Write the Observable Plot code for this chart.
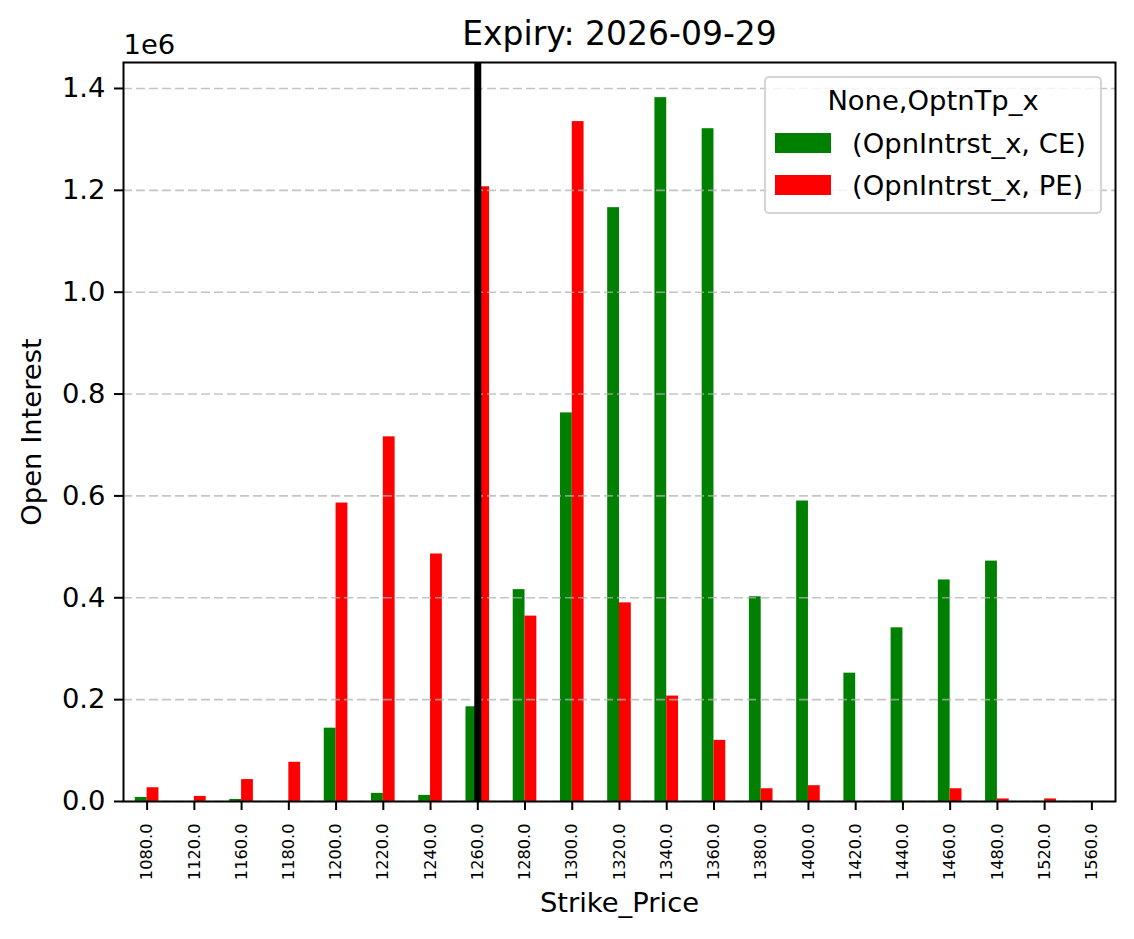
<!DOCTYPE html>
<html><head><meta charset="utf-8">
<script src="https://cdn.jsdelivr.net/npm/d3@7"></script>
<script src="https://cdn.jsdelivr.net/npm/@observablehq/plot@0.6"></script>
<style>
body{margin:0;background:#fff;font-family:"DejaVu Sans",sans-serif;}
#wrap{position:relative;width:1134px;height:939px;}
#legend{position:absolute;left:764px;top:76px;width:334px;height:134px;border:2px solid rgba(204,204,204,0.85);border-radius:5px;background:rgba(255,255,255,0.8);}
#legend .t{position:absolute;font-size:27.4px;line-height:27.4px;white-space:nowrap;color:#000;}
#legend .sw{position:absolute;width:56px;height:20px;}
</style></head><body><div id="wrap"></div>
<script>
const strikes = [1080,1120,1160,1180,1200,1220,1240,1260,1280,1300,1320,1340,1360,1380,1400,1420,1440,1460,1480,1520,1560];
const ceOI = [8000,0,4000,0,144000,16000,12000,186000,416000,763000,1166000,1382000,1321000,402000,590000,252000,341000,435000,472000,0,0];
const peOI = [27000,10000,43000,77000,586000,716000,486000,1207000,364000,1335000,390000,207000,120000,25000,31000,0,0,25000,5000,5000,0];
const seriesNames = ["CE","PE"];
const seriesLabels = ["(OpnIntrst_x, CE)","(OpnIntrst_x, PE)"];
const seriesColors = ["#008000","#ff0000"];
const underlying = 1260;
const yTicks = [0,200000,400000,600000,800000,1000000,1200000,1400000];
const titleText = "Expiry: 2026-09-29";
const legendTitle = "None,OptnTp_x";

const rows = [];
strikes.forEach((s,i) => {
  rows.push({i, strike:s, type:"CE", oi:ceOI[i]});
  rows.push({i, strike:s, type:"PE", oi:peOI[i]});
});
const idx = strikes.map((_,i)=>i);
const barW = 0.25;
const fs = 27.4;

const chart = Plot.plot({
  width:1134, height:939,
  marginTop:62, marginLeft:123, marginRight:19, marginBottom:138,
  style:{fontFamily:"DejaVu Sans", color:"#000", background:"#fff"},
  x:{type:"linear", domain:[-0.5, strikes.length-0.5]},
  y:{domain:[0,1451000]},
  color:{domain:seriesNames, range:seriesColors},
  marks:[
    Plot.rect(rows,{x1:d=>d.i+(d.type==="CE"?-barW:0), x2:d=>d.i+(d.type==="CE"?0:barW), y1:0, y2:"oi", fill:"type"}),
    Plot.gridY(yTicks,{stroke:"#b0b0b0", strokeOpacity:0.75, strokeDasharray:"9,4", strokeWidth:1.6}),
    Plot.ruleX([strikes.indexOf(underlying)],{stroke:"#000", strokeWidth:7}),
    Plot.frame({stroke:"#000", strokeWidth:2}),
    Plot.axisY(yTicks,{tickFormat:d=>(d/1e6).toFixed(1), tickSize:9, tickPadding:9, fontSize:fs, strokeWidth:2, label:null}),
    Plot.axisX(idx,{tickFormat:i=>strikes[i].toFixed(1), tickRotate:-90, tickSize:9, tickPadding:13, fontSize:16.2, strokeWidth:2, label:null}),
    Plot.text([titleText],{frameAnchor:"top", dy:-27.6, fontSize:33, lineAnchor:"middle"}),
    Plot.text(["1e6"],{frameAnchor:"top-left", textAnchor:"start", dy:-17.5, fontSize:fs, lineAnchor:"middle"}),
    Plot.text(["Open Interest"],{frameAnchor:"left", textAnchor:"middle", dx:-91, rotate:-90, fontSize:fs, lineAnchor:"middle"}),
    Plot.text(["Strike_Price"],{frameAnchor:"bottom", textAnchor:"middle", dy:102, fontSize:fs, lineAnchor:"middle"})
  ]
});
const wrap = document.getElementById("wrap");
wrap.appendChild(chart);

const lg = document.createElement("div");
lg.id = "legend";
const t = document.createElement("div");
t.className = "t"; t.textContent = legendTitle;
t.style.left = "0"; t.style.width = "100%"; t.style.textAlign = "center"; t.style.top = (86.8-78)+"px";
lg.appendChild(t);
seriesLabels.forEach((lab,k) => {
  const sw = document.createElement("div");
  sw.className = "sw"; sw.style.background = seriesColors[k];
  sw.style.left = (775-766)+"px"; sw.style.top = ([133,175][k]-78)+"px";
  lg.appendChild(sw);
  const tx = document.createElement("div");
  tx.className = "t"; tx.textContent = lab;
  tx.style.left = (852-766)+"px"; tx.style.top = ([130,172][k]-78)+"px";
  lg.appendChild(tx);
});
wrap.appendChild(lg);
</script></body></html>
